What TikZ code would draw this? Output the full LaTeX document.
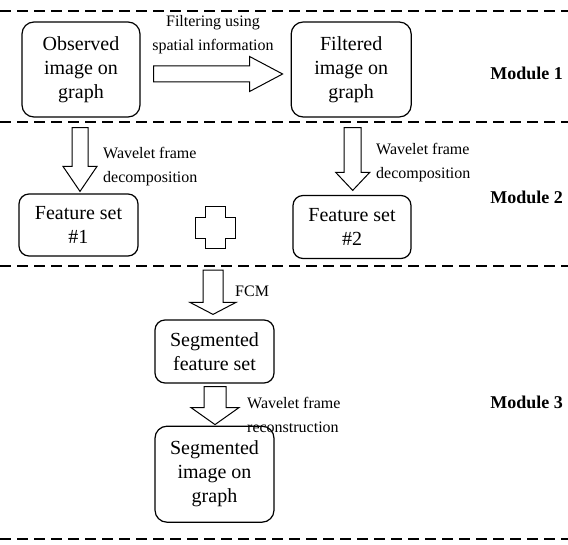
\documentclass[tikz,border=0pt]{standalone}
\usepackage{fontspec}
\setmainfont{Liberation Serif}
\usetikzlibrary{positioning,calc}

\tikzset{
  box/.style={draw, rounded corners=12pt, line width=1.2pt, align=center, inner sep=0pt,
    font=\fontsize{20}{24}\selectfont},
  lbl/.style={anchor=west, align=left, inner sep=0pt, font=\fontsize{16}{24}\selectfont},
  module/.style={anchor=east, inner sep=0pt, font=\fontsize{18}{22}\selectfont\bfseries},
  sep/.style={line width=2.7pt, dash pattern=on 11pt off 6pt},
  varrow/.style n args={3}{line width=1pt, to path={let \p1=(\tikztostart), \p2=(\tikztotarget) in
    (\x1-#1,\y1) -- (\x1+#1,\y1) -- (\x1+#1,\y2+#3) -- (\x1+#2,\y2+#3) -- (\x1,\y2)
    -- (\x1-#2,\y2+#3) -- (\x1-#1,\y2+#3) -- cycle}},
  harrow/.style n args={3}{line width=1pt, to path={let \p1=(\tikztostart), \p2=(\tikztotarget) in
    (\x1,\y1+#1) -- (\x2-#3,\y1+#1) -- (\x2-#3,\y1+#2) -- (\x2,\y1)
    -- (\x2-#3,\y1-#2) -- (\x2-#3,\y1-#1) -- (\x1,\y1-#1) -- cycle}}
}

\begin{document}
\begin{tikzpicture}[x=1pt,y=1pt]
    \useasboundingbox (0,0) rectangle (568,544);
    % module separators
    \draw[sep] (0,533)--(568,533);
    \draw[sep] (0,422)--(568,422);
    \draw[sep] (0,278)--(568,278);
    \draw[sep] (0,5)--(568,5);
    % boxes
    \node[box, minimum width=118pt, minimum height=95pt] (obs) at (81,474.5) {Observed\\image on\\graph}; %
    \node[box, minimum width=120pt, minimum height=95pt, right=150pt of obs] (filt) {Filtered\\image on\\graph}; %
    \node[box, minimum width=119pt, minimum height=62pt, rounded corners=10pt] (fs1) at (78.5,319) {Feature set\\\#1}; %
    \node[box, minimum width=118pt, minimum height=63pt, rounded corners=10pt] (fs2) at (352,317) {Feature set\\\#2}; %
    \node[minimum width=40pt, minimum height=42pt, inner sep=0pt] (plus) at (215,316) {}; %
    \node[box, minimum width=119pt, minimum height=63pt, rounded corners=10pt] (segf) at (214.5,192.5) {Segmented\\feature set}; %
    \node[box, minimum width=119pt, minimum height=96pt, below=42pt of segf] (segi) {Segmented\\image on\\graph}; %
    % labels
    \node[lbl, anchor=center, align=center] (filtlbl) at (213,509) {Filtering using\\spatial information}; %
    \node[lbl] (wav1) at (103,377.5) {Wavelet frame\\decomposition}; %
    \node[lbl] (wav2) at (376,381) {Wavelet frame\\decomposition}; %
    \node[lbl] (fcm) at (235,253) {FCM}; %
    \node[lbl] (wav3) at (247,129) {Wavelet frame\\reconstruction}; %
    \node[module] (mod1) at (563,471) {Module 1}; %
    \node[module] (mod2) at (563,347) {Module 2}; %
    \node[module] (mod3) at (563,142) {Module 3}; %
    % plus sign
    \draw[line width=1pt, shift={(plus.center)}] (-10,21) -- (10,21) -- (10,10.5) -- (20,10.5) -- (20,-10.5)
      -- (10,-10.5) -- (10,-21) -- (-10,-21) -- (-10,-10.5) -- (-20,-10.5) -- (-20,10.5) -- (-10,10.5) -- cycle;
    % block arrows
    \draw[harrow={8pt}{17.5pt}{33pt}] ($(obs.east)+(13pt,-4.5pt)$) to ($(filt.west)+(-8pt,-4.5pt)$);
    \draw[varrow={8pt}{17pt}{25pt}] ($(obs.south)+(-1pt,-10pt)$) to ($(fs1.north)+(1.5pt,2pt)$);
    \draw[varrow={8.5pt}{17pt}{18pt}] ($(filt.south)+(1.5pt,-10pt)$) to ($(fs2.north)+(0pt,4.5pt)$);
    \draw[varrow={10pt}{23pt}{12pt}] ($(plus.south)+(-2pt,-21pt)$) to ($(segf.north)+(-1.5pt,5pt)$);
    \draw[varrow={11pt}{24pt}{17pt}] ($(segf.south)+(0.5pt,-3pt)$) to ($(segi.north)+(0.5pt,1pt)$);
\end{tikzpicture}
\end{document}
